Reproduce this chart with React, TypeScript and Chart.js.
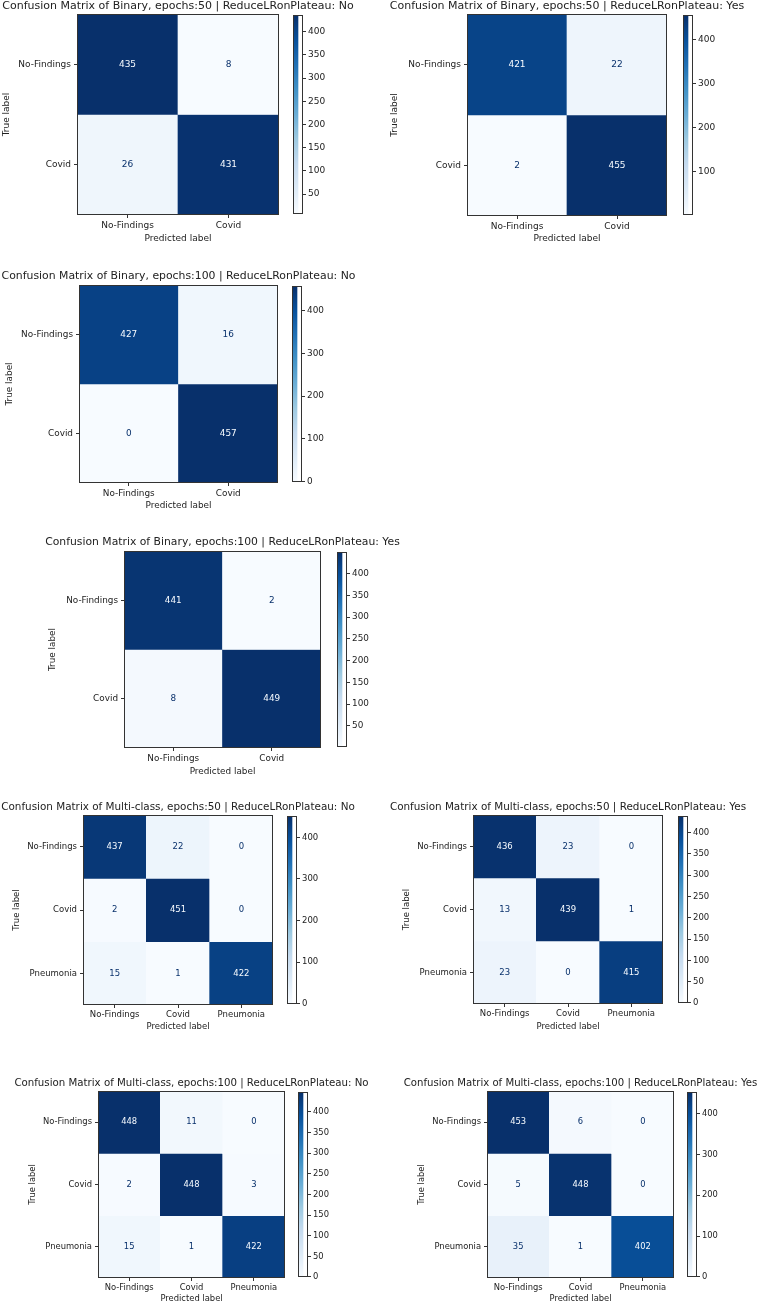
import React, { useEffect, useRef } from 'react';
import { Chart, registerables } from 'chart.js';

Chart.register(...registerables);
Chart.defaults.font.family = "'DejaVu Sans', sans-serif";
Chart.defaults.color = '#222';

// ---------- data ----------
const BINARY_CLASSES = ['No-Findings', 'Covid'];
const MULTI_CLASSES = ['No-Findings', 'Covid', 'Pneumonia'];

const TITLE_BIN_50_NO = 'Confusion Matrix of Binary, epochs:50 | ReduceLRonPlateau: No';
const TITLE_BIN_50_YES = 'Confusion Matrix of Binary, epochs:50 | ReduceLRonPlateau: Yes';
const TITLE_BIN_100_NO = 'Confusion Matrix of Binary, epochs:100 | ReduceLRonPlateau: No';
const TITLE_BIN_100_YES = 'Confusion Matrix of Binary, epochs:100 | ReduceLRonPlateau: Yes';
const TITLE_MULTI_50_NO = 'Confusion Matrix of Multi-class, epochs:50 | ReduceLRonPlateau: No';
const TITLE_MULTI_50_YES = 'Confusion Matrix of Multi-class, epochs:50 | ReduceLRonPlateau: Yes';
const TITLE_MULTI_100_NO = 'Confusion Matrix of Multi-class, epochs:100 | ReduceLRonPlateau: No';
const TITLE_MULTI_100_YES = 'Confusion Matrix of Multi-class, epochs:100 | ReduceLRonPlateau: Yes';

const CM_BIN_50_NO = [[435, 8], [26, 431]];
const CM_BIN_50_YES = [[421, 22], [2, 455]];
const CM_BIN_100_NO = [[427, 16], [0, 457]];
const CM_BIN_100_YES = [[441, 2], [8, 449]];
const CM_MULTI_50_NO = [[437, 22, 0], [2, 451, 0], [15, 1, 422]];
const CM_MULTI_50_YES = [[436, 23, 0], [13, 439, 1], [23, 0, 415]];
const CM_MULTI_100_NO = [[448, 11, 0], [2, 448, 3], [15, 1, 422]];
const CM_MULTI_100_YES = [[453, 6, 0], [5, 448, 0], [35, 1, 402]];

const CB_TICKS_BIN_50_NO = [50, 100, 150, 200, 250, 300, 350, 400];
const CB_TICKS_BIN_50_YES = [100, 200, 300, 400];
const CB_TICKS_BIN_100_NO = [0, 100, 200, 300, 400];
const CB_TICKS_BIN_100_YES = [50, 100, 150, 200, 250, 300, 350, 400];
const CB_TICKS_MULTI_50_NO = [0, 100, 200, 300, 400];
const CB_TICKS_MULTI_50_YES = [0, 50, 100, 150, 200, 250, 300, 350, 400];
const CB_TICKS_MULTI_100_NO = [0, 50, 100, 150, 200, 250, 300, 350, 400];
const CB_TICKS_MULTI_100_YES = [0, 100, 200, 300, 400];

const X_TITLE = 'Predicted label';
const Y_TITLE = 'True label';

// ---------- layout (positions / sizes only) ----------
type Panel = {
  title: string; classes: string[]; cm: number[][]; cbTicks: number[];
  L: number; T: number; R: number; B: number; cbL: number;
  titleY: number; yLabelX: number; xLabelY: number; canvasLeft: number;
  fs: number; tfs: number;
};

const PANELS: Panel[] = [
  { title: TITLE_BIN_50_NO, classes: BINARY_CLASSES, cm: CM_BIN_50_NO, cbTicks: CB_TICKS_BIN_50_NO,
    L: 77, T: 14, R: 279, B: 215, cbL: 293, titleY: 6, yLabelX: 7, xLabelY: 239, canvasLeft: 0, fs: 9, tfs: 11 },
  { title: TITLE_BIN_50_YES, classes: BINARY_CLASSES, cm: CM_BIN_50_YES, cbTicks: CB_TICKS_BIN_50_YES,
    L: 467, T: 14, R: 667, B: 216, cbL: 683, titleY: 6, yLabelX: 395, xLabelY: 239, canvasLeft: 380, fs: 9, tfs: 11 },
  { title: TITLE_BIN_100_NO, classes: BINARY_CLASSES, cm: CM_BIN_100_NO, cbTicks: CB_TICKS_BIN_100_NO,
    L: 79, T: 285, R: 278, B: 483, cbL: 292, titleY: 276, yLabelX: 10, xLabelY: 506, canvasLeft: 0, fs: 8.9, tfs: 10.86 },
  { title: TITLE_BIN_100_YES, classes: BINARY_CLASSES, cm: CM_BIN_100_YES, cbTicks: CB_TICKS_BIN_100_YES,
    L: 124, T: 551, R: 321, B: 748, cbL: 337, titleY: 542, yLabelX: 53, xLabelY: 772, canvasLeft: 0, fs: 8.85, tfs: 10.8 },
  { title: TITLE_MULTI_50_NO, classes: MULTI_CLASSES, cm: CM_MULTI_50_NO, cbTicks: CB_TICKS_MULTI_50_NO,
    L: 83, T: 815, R: 273, B: 1005, cbL: 287, titleY: 807, yLabelX: 17, xLabelY: 1027, canvasLeft: 0, fs: 8.5, tfs: 10.4 },
  { title: TITLE_MULTI_50_YES, classes: MULTI_CLASSES, cm: CM_MULTI_50_YES, cbTicks: CB_TICKS_MULTI_50_YES,
    L: 473, T: 815, R: 663, B: 1004, cbL: 678, titleY: 807, yLabelX: 407, xLabelY: 1027, canvasLeft: 380, fs: 8.5, tfs: 10.4 },
  { title: TITLE_MULTI_100_NO, classes: MULTI_CLASSES, cm: CM_MULTI_100_NO, cbTicks: CB_TICKS_MULTI_100_NO,
    L: 98, T: 1091, R: 285, B: 1278, cbL: 298, titleY: 1083, yLabelX: 33, xLabelY: 1299, canvasLeft: 0, fs: 8.4, tfs: 10.22 },
  { title: TITLE_MULTI_100_YES, classes: MULTI_CLASSES, cm: CM_MULTI_100_YES, cbTicks: CB_TICKS_MULTI_100_YES,
    L: 487, T: 1091, R: 674, B: 1278, cbL: 687, titleY: 1083, yLabelX: 422, xLabelY: 1299, canvasLeft: 380, fs: 8.35, tfs: 10.15 },
];

// ---------- colormap (matplotlib Blues) ----------
const BLUES = [
  [247, 251, 255], [222, 235, 247], [198, 219, 239], [158, 202, 225], [107, 174, 214],
  [66, 146, 198], [33, 113, 181], [8, 81, 156], [8, 48, 107],
];
function blues(t: number): string {
  const x = Math.max(0, Math.min(1, t)) * (BLUES.length - 1);
  const i = Math.min(BLUES.length - 2, Math.floor(x));
  const f = x - i;
  const c = BLUES[i].map((v, k) => Math.round(v + (BLUES[i + 1][k] - v) * f));
  return `rgb(${c[0]},${c[1]},${c[2]})`;
}

const LINE = '#333';
const TEXT = '#222';
const CB_W = 10;

function MatrixChart({ p }: { p: Panel }) {
  const ref = useRef<HTMLCanvasElement>(null);
  const LH = p.fs * 1.2;
  const canvasLeft = p.canvasLeft;
  const canvasTop = p.T - 18;
  const canvasRight = Math.round(Math.min(759, (p.L + p.R) / 2 + 200));
  const canvasBottom = Math.round(p.xLabelY + LH / 2 + 3);
  const W = canvasRight - canvasLeft;
  const H = canvasBottom - canvasTop;

  useEffect(() => {
    const n = p.classes.length;
    const flat = p.cm.flat();
    const vmin = Math.min(...flat);
    const vmax = Math.max(...flat);
    const thresh = (vmin + vmax) / 2;
    const datasets = p.cm.map((row, i) => ({
      label: p.classes[i],
      data: row.map(() => 1),
      backgroundColor: row.map((v) => blues((v - vmin) / (vmax - vmin))),
      borderWidth: 0,
      barPercentage: 1,
      categoryPercentage: 1,
      stack: 'm',
    }));
    const scaleLeft = p.yLabelX - LH / 2;
    const deco = {
      id: 'matrixDeco',
      afterDatasetsDraw(chart: any) {
        const { ctx, chartArea, scales } = chart;
        ctx.save();
        ctx.font = `${p.fs}px 'DejaVu Sans', sans-serif`;
        ctx.textAlign = 'center';
        ctx.textBaseline = 'middle';
        p.cm.forEach((row, i) => {
          row.forEach((v, j) => {
            const x = scales.x.getPixelForValue(j);
            const y = scales.y.getPixelForValue(i + 0.5);
            ctx.fillStyle = v >= thresh ? blues(0) : blues(1);
            ctx.fillText(String(v), x, y);
          });
        });
        ctx.strokeStyle = LINE;
        ctx.lineWidth = 1;
        const l = Math.round(chartArea.left) + 0.5;
        const t = Math.round(chartArea.top) + 0.5;
        const r = Math.round(chartArea.right) - 0.5;
        const b = Math.round(chartArea.bottom) - 0.5;
        ctx.strokeRect(l, t, r - l, b - t);
        ctx.font = `${p.tfs}px 'DejaVu Sans', sans-serif`;
        ctx.fillStyle = TEXT;
        ctx.fillText(p.title, (chartArea.left + chartArea.right) / 2, p.titleY - canvasTop);
        ctx.restore();
      },
    };
    const gridCfg = {
      display: true, drawOnChartArea: false, drawTicks: true, offset: false,
      tickLength: 3, tickColor: LINE, tickWidth: 1, color: LINE,
    };
    const chart = new Chart(ref.current as HTMLCanvasElement, {
      type: 'bar',
      data: { labels: p.classes, datasets },
      options: {
        responsive: false,
        animation: false,
        devicePixelRatio: 1,
        layout: {
          padding: { left: scaleLeft - canvasLeft, top: p.T - canvasTop, right: canvasRight - p.R, bottom: canvasBottom - (p.xLabelY + LH / 2) },
        },
        plugins: { legend: { display: false }, tooltip: { enabled: false }, title: { display: false } },
        scales: {
          x: {
            stacked: true,
            offset: true,
            grid: gridCfg,
            border: { display: false },
            ticks: { padding: 2, color: TEXT, font: { size: p.fs }, autoSkip: false, maxRotation: 0 },
            title: { display: true, text: X_TITLE, padding: 0, color: TEXT, font: { size: p.fs } },
            afterFit: (s: any) => { s.height = p.xLabelY + LH / 2 - p.B; },
          },
          y: {
            type: 'linear',
            stacked: true,
            reverse: true,
            min: 0,
            max: n,
            grid: gridCfg,
            border: { display: false },
            afterBuildTicks: (s: any) => { s.ticks = p.classes.map((_, i) => ({ value: i + 0.5 })); },
            ticks: {
              padding: 3, color: TEXT, font: { size: p.fs }, autoSkip: false,
              callback: (v: any) => p.classes[Math.floor(Number(v))],
            },
            title: { display: true, text: Y_TITLE, padding: 0, color: TEXT, font: { size: p.fs } },
            afterFit: (s: any) => { s.width = p.L - scaleLeft; },
          },
        },
      } as any,
      plugins: [deco],
    });
    return () => chart.destroy();
  }, []);

  return (
    <canvas ref={ref} width={W} height={H}
      style={{ position: 'absolute', left: canvasLeft, top: canvasTop, width: W, height: H }} />
  );
}

function ColorbarChart({ p }: { p: Panel }) {
  const ref = useRef<HTMLCanvasElement>(null);
  const padL = 2;
  const padV = 6;
  const axisW = 38;
  const canvasLeft = p.cbL - padL;
  const canvasTop = p.T - padV;
  const W = padL + CB_W + axisW;
  const H = (p.B - p.T) + padV * 2;

  useEffect(() => {
    const flat = p.cm.flat();
    const vmin = Math.min(...flat);
    const vmax = Math.max(...flat);
    const outline = {
      id: 'cbOutline',
      afterDatasetsDraw(chart: any) {
        const { ctx, chartArea } = chart;
        ctx.save();
        ctx.strokeStyle = LINE;
        ctx.lineWidth = 1;
        const l = Math.round(chartArea.left) + 0.5;
        const t = Math.round(chartArea.top) + 0.5;
        const r = Math.round(chartArea.right) - 0.5;
        const b = Math.round(chartArea.bottom) - 0.5;
        ctx.strokeRect(l, t, r - l, b - t);
        ctx.restore();
      },
    };
    const chart = new Chart(ref.current as HTMLCanvasElement, {
      type: 'bar',
      data: {
        labels: [''],
        datasets: [{
          data: [[vmin, vmax]],
          borderWidth: 0,
          barPercentage: 1,
          categoryPercentage: 1,
          backgroundColor: (c: any) => {
            const ca = c.chart.chartArea;
            if (!ca) return blues(0.5);
            const g = c.chart.ctx.createLinearGradient(0, ca.bottom, 0, ca.top);
            for (let k = 0; k <= 32; k++) g.addColorStop(k / 32, blues(k / 32));
            return g;
          },
        }],
      },
      options: {
        responsive: false,
        animation: false,
        devicePixelRatio: 1,
        layout: { padding: { left: padL, top: padV, bottom: padV, right: 0 } },
        plugins: { legend: { display: false }, tooltip: { enabled: false } },
        scales: {
          x: { display: false, offset: false },
          y: {
            position: 'right',
            min: vmin,
            max: vmax,
            grid: { display: true, drawOnChartArea: false, drawTicks: true, tickLength: 3, tickColor: LINE, color: LINE },
            border: { display: false },
            afterBuildTicks: (s: any) => { s.ticks = p.cbTicks.map((v) => ({ value: v })); },
            ticks: { padding: 2, color: TEXT, font: { size: p.fs }, autoSkip: false },
            afterFit: (s: any) => { s.width = axisW; },
          },
        },
      } as any,
      plugins: [outline],
    });
    return () => chart.destroy();
  }, []);

  return (
    <canvas ref={ref} width={W} height={H}
      style={{ position: 'absolute', left: canvasLeft, top: canvasTop, width: W, height: H }} />
  );
}

export default function App() {
  return (
    <div style={{ position: 'absolute', left: 0, top: 0, width: 759, height: 1303, background: '#fff', overflow: 'hidden' }}>
      {PANELS.map((p, i) => (
        <React.Fragment key={i}>
          <MatrixChart p={p} />
          <ColorbarChart p={p} />
        </React.Fragment>
      ))}
    </div>
  );
}
